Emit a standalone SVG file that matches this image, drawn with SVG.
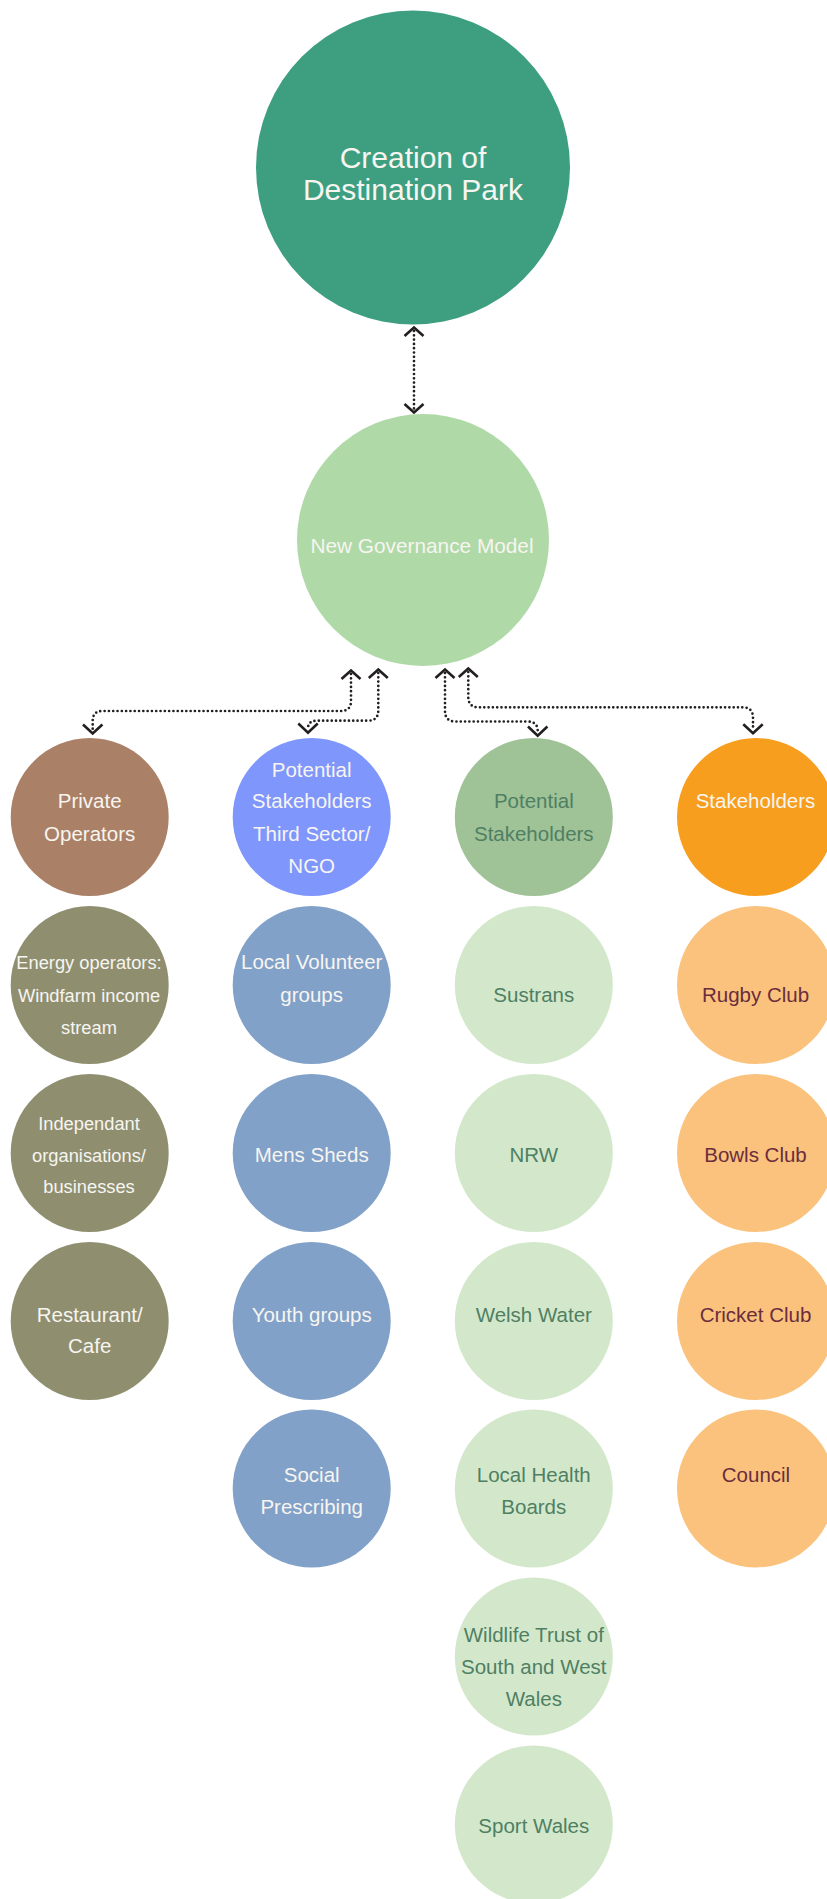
<svg xmlns="http://www.w3.org/2000/svg" width="827" height="1899" viewBox="0 0 827 1899">
<style>
text{font-family:"Liberation Sans",Arial,Helvetica,sans-serif;text-anchor:middle;font-size:20.5px}
.w{fill:#f7f5f0}
.g{fill:#4f7f63}
.m{fill:#6b2d3e}
.s18{font-size:18.3px}
.dot{fill:none;stroke:#231f20;stroke-width:2.7;stroke-linecap:round;stroke-dasharray:0 4.3}
.hd{fill:none;stroke:#231f20;stroke-width:2.6;stroke-linejoin:miter}
</style>
<rect width="827" height="1899" fill="#ffffff"/>

<g id="creation">
<circle cx="413" cy="167.5" r="157" fill="#3d9f80"/>
<text x="413" y="168" class="w" style="font-size:30px">Creation of</text>
<text x="413" y="200" class="w" style="font-size:30px">Destination Park</text>
</g>

<g id="governance">
<circle cx="423" cy="540" r="126" fill="#b0d9a8"/>
<text x="422" y="553" class="w" style="font-size:20.8px">New Governance Model</text>
</g>

<g id="private-operators">
<circle cx="89.7" cy="817" r="79" fill="#aa8166"/>
<text x="89.7" y="808.3" class="w">Private</text>
<text x="89.7" y="840.7" class="w">Operators</text>
</g>
<g id="third-sector">
<circle cx="311.7" cy="817" r="79" fill="#7f96fc"/>
<text x="311.7" y="776.7" class="w">Potential</text>
<text x="311.7" y="808.3" class="w">Stakeholders</text>
<text x="311.7" y="840.7" class="w">Third Sector/</text>
<text x="311.7" y="872.7" class="w">NGO</text>
</g>
<g id="potential-stakeholders">
<circle cx="533.8" cy="817" r="79" fill="#9fc297"/>
<text x="533.8" y="808.3" class="g">Potential</text>
<text x="533.8" y="840.7" class="g">Stakeholders</text>
</g>
<g id="stakeholders">
<circle cx="756" cy="817" r="79" fill="#f79e1f"/>
<text x="755.5" y="808.3" class="w">Stakeholders</text>
</g>

<g id="energy">
<circle cx="89.7" cy="985" r="79" fill="#8f8f70"/>
<text x="89" y="969.3" class="w s18">Energy operators:</text>
<text x="89" y="1001.7" class="w s18">Windfarm income</text>
<text x="89" y="1034" class="w s18">stream</text>
</g>
<g id="volunteer">
<circle cx="311.7" cy="985" r="79" fill="#82a1c9"/>
<text x="311.7" y="969.3" class="w">Local Volunteer</text>
<text x="311.7" y="1001.7" class="w">groups</text>
</g>
<g id="sustrans">
<circle cx="533.8" cy="985" r="79" fill="#d3e8cb"/>
<text x="533.8" y="1001.7" class="g">Sustrans</text>
</g>
<g id="rugby">
<circle cx="756" cy="985" r="79" fill="#fac27c"/>
<text x="755.5" y="1001.7" class="m">Rugby Club</text>
</g>

<g id="independant">
<circle cx="89.7" cy="1153" r="79" fill="#8f8f70"/>
<text x="89" y="1130" class="w s18">Independant</text>
<text x="89" y="1161.7" class="w s18">organisations/</text>
<text x="89" y="1193.3" class="w s18">businesses</text>
</g>
<g id="mens-sheds">
<circle cx="311.7" cy="1153" r="79" fill="#82a1c9"/>
<text x="311.7" y="1161.7" class="w">Mens Sheds</text>
</g>
<g id="nrw">
<circle cx="533.8" cy="1153" r="79" fill="#d3e8cb"/>
<text x="533.8" y="1161.7" class="g">NRW</text>
</g>
<g id="bowls">
<circle cx="756" cy="1153" r="79" fill="#fac27c"/>
<text x="755.5" y="1161.7" class="m">Bowls Club</text>
</g>

<g id="restaurant">
<circle cx="89.7" cy="1321" r="79" fill="#8f8f70"/>
<text x="89.7" y="1321.7" class="w">Restaurant/</text>
<text x="89.7" y="1353.3" class="w">Cafe</text>
</g>
<g id="youth">
<circle cx="311.7" cy="1321" r="79" fill="#82a1c9"/>
<text x="311.7" y="1321.7" class="w">Youth groups</text>
</g>
<g id="welsh-water">
<circle cx="533.8" cy="1321" r="79" fill="#d3e8cb"/>
<text x="533.8" y="1321.7" class="g">Welsh Water</text>
</g>
<g id="cricket">
<circle cx="756" cy="1321" r="79" fill="#fac27c"/>
<text x="755.5" y="1321.7" class="m">Cricket Club</text>
</g>

<g id="social">
<circle cx="311.7" cy="1488.5" r="79" fill="#82a1c9"/>
<text x="311.7" y="1481.7" class="w">Social</text>
<text x="311.7" y="1514" class="w">Prescribing</text>
</g>
<g id="health">
<circle cx="533.8" cy="1488.5" r="79" fill="#d3e8cb"/>
<text x="533.8" y="1481.7" class="g">Local Health</text>
<text x="533.8" y="1514" class="g">Boards</text>
</g>
<g id="council">
<circle cx="756" cy="1488.5" r="79" fill="#fac27c"/>
<text x="756" y="1481.7" class="m">Council</text>
</g>

<g id="wildlife">
<circle cx="533.8" cy="1656.5" r="79" fill="#d3e8cb"/>
<text x="533.8" y="1641.7" class="g">Wildlife Trust of</text>
<text x="533.8" y="1674" class="g">South and West</text>
<text x="533.8" y="1705.7" class="g">Wales</text>
</g>
<g id="sport-wales">
<circle cx="533.8" cy="1824.5" r="79" fill="#d3e8cb"/>
<text x="533.8" y="1833.3" class="g">Sport Wales</text>
</g>

<g id="connectors">
<path class="dot" d="M414,331 L414,409"/>
<path class="hd" d="M404.5,336 L414,327.5 L423.5,336"/>
<path class="hd" d="M404.5,404 L414,412.5 L423.5,404"/>

<path class="dot" d="M351,674 L351,701 Q351,711 341,711 L102.5,711 Q92.7,711 92.7,721 L92.7,730"/>
<path class="hd" d="M341.5,679 L351,670.5 L360.5,679"/>
<path class="hd" d="M83,724.5 L92.7,733.5 L102.4,724.5"/>

<path class="dot" d="M378.3,673 L378.3,710.5 Q378.3,720.7 368,720.7 L317,720.7 Q308,720.7 308,728.5"/>
<path class="hd" d="M368.8,678 L378.3,669.5 L387.8,678"/>
<path class="hd" d="M298.3,723.5 L308,732.7 L317.7,723.5"/>

<path class="dot" d="M445,673 L445,711 Q445,721.5 455.5,721.5 L527,721.5 Q537.7,721.5 537.7,731"/>
<path class="hd" d="M435.5,678 L445,669.5 L454.5,678"/>
<path class="hd" d="M528,726.5 L537.7,735.7 L547.4,726.5"/>

<path class="dot" d="M468.3,672 L468.3,697 Q468.3,707.3 478.6,707.3 L742.5,707.3 Q753,707.3 753,717.8 L753,730"/>
<path class="hd" d="M458.8,677 L468.3,668.5 L477.8,677"/>
<path class="hd" d="M743.3,724.3 L753,733.3 L762.7,724.3"/>
</g>
</svg>
